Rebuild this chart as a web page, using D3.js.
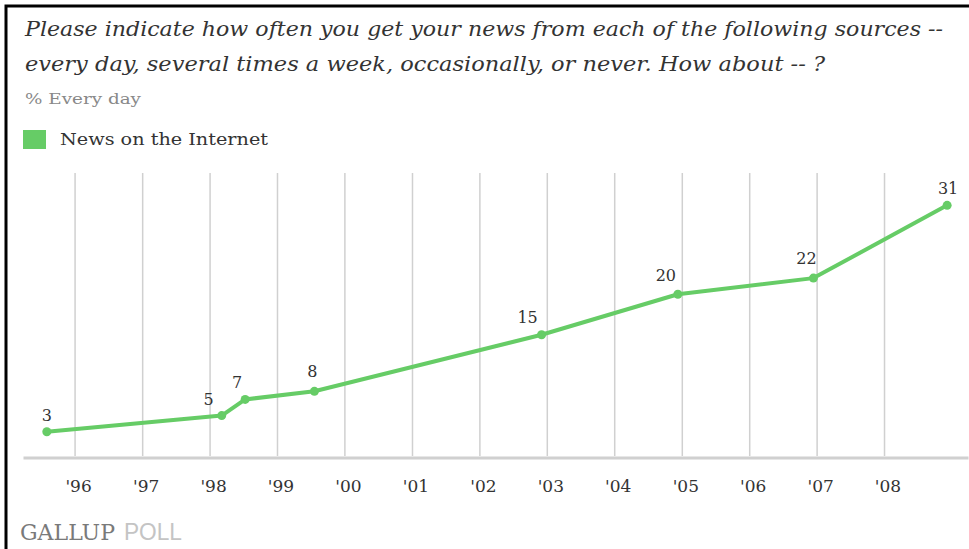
<!DOCTYPE html>
<html>
<head>
<meta charset="utf-8">
<script src="https://cdn.jsdelivr.net/npm/d3@7"></script>
<style>
  html, body { margin: 0; padding: 0; background: #fff; }
  svg { display: block; }
</style>
</head>
<body>
<svg id="chart" width="969" height="549"></svg>
<script>
// ---- data ----
const surveyDates = ["1995-08-01", "1998-03-05", "1998-07-10", "1999-07-20", "2002-12-01", "2004-12-08", "2006-12-12", "2008-12-05"];
const everyDayPct = [3, 5, 7, 8, 15, 20, 22, 31];
const tickYears = [1996, 1997, 1998, 1999, 2000, 2001, 2002, 2003, 2004, 2005, 2006, 2007, 2008];
const tickLabels = ["'96", "'97", "'98", "'99", "'00", "'01", "'02", "'03", "'04", "'05", "'06", "'07", "'08"];
const seriesName = "News on the Internet";
const titleLines = [
  "Please indicate how often you get your news from each of the following sources --",
  "every day, several times a week, occasionally, or never. How about -- ?"
];
const subtitle = "% Every day";

// ---- drawing ----
const svg = d3.select("#chart");
const green = "#66cc66";
const parse = d3.timeParse("%Y-%m-%d");
const points = surveyDates.map((d, i) => ({ date: parse(d), value: everyDayPct[i] }));

svg.append("rect").attr("width", 969).attr("height", 549).attr("fill", "#fff");

// frame (top + left black edges)
svg.append("path").attr("d", "M6,549V6H969").attr("fill", "none")
  .attr("stroke", "#000").attr("stroke-width", 3);

// title
const serif = "'DejaVu Serif', 'Liberation Serif', serif";
svg.selectAll("text.title").data(titleLines).join("text")
  .attr("class", "title")
  .attr("x", 25).attr("y", (d, i) => 36 + i * 35)
  .attr("font-family", serif).attr("font-style", "italic")
  .attr("font-size", 20).attr("fill", "#333")
  .attr("textLength", (d, i) => i === 0 ? 918 : 800)
  .attr("lengthAdjust", "spacingAndGlyphs")
  .text(d => d);

svg.append("text").attr("x", 25).attr("y", 104)
  .attr("font-family", serif).attr("font-size", 15).attr("fill", "#888")
  .attr("textLength", 116).attr("lengthAdjust", "spacingAndGlyphs")
  .text(subtitle);

// legend
svg.append("rect").attr("x", 23).attr("y", 130).attr("width", 23).attr("height", 19).attr("fill", green);
svg.append("text").attr("x", 60).attr("y", 145)
  .attr("font-family", serif).attr("font-size", 17).attr("fill", "#333")
  .attr("textLength", 208).attr("lengthAdjust", "spacingAndGlyphs")
  .text(seriesName);

// scales
const x = d3.scaleTime()
  .domain([new Date(1995, 2, 25), new Date(2009, 2, 28)])
  .range([23, 968]);
const y = d3.scaleLinear().domain([0, 35]).range([456, 173]);

// vertical gridlines
const tickDates = tickYears.map(yr => new Date(yr, 0, 1));
svg.append("g").selectAll("line").data(tickDates).join("line")
  .attr("x1", d => x(d)).attr("x2", d => x(d))
  .attr("y1", y(35)).attr("y2", y(0))
  .attr("stroke", "#d0d0d0").attr("stroke-width", 1.5);

// x axis
const xAxis = d3.axisBottom(x)
  .tickValues(tickDates)
  .tickFormat((d, i) => tickLabels[i])
  .tickSize(0).tickPadding(22);
const gx = svg.append("g").attr("transform", `translate(0,${y(0) + 1.5})`).call(xAxis);
gx.select(".domain").attr("stroke", "#d0d0d0").attr("stroke-width", 3);
gx.selectAll("text")
  .attr("font-family", serif).attr("font-size", 17).attr("fill", "#333")
  .attr("dx", 3);

// line
const line = d3.line().x(d => x(d.date)).y(d => y(d.value));
svg.append("path").datum(points)
  .attr("d", line).attr("fill", "none")
  .attr("stroke", green).attr("stroke-width", 4)
  .attr("stroke-linejoin", "round").attr("stroke-linecap", "round");

svg.append("g").selectAll("circle").data(points).join("circle")
  .attr("cx", d => x(d.date)).attr("cy", d => y(d.value)).attr("r", 4.5)
  .attr("fill", green);

// value labels (small nudges to keep clear of the line)
const nudgeX = [0, -13, -8, -2, -14, -12, -7, 1];
const nudgeY = [0, 0, 0, -3, -1, -2, -3, 0];
svg.append("g").selectAll("text").data(points).join("text")
  .attr("x", (d, i) => x(d.date) + nudgeX[i])
  .attr("y", (d, i) => y(d.value) - 11 + nudgeY[i])
  .attr("text-anchor", "middle")
  .attr("font-family", serif).attr("font-size", 16).attr("fill", "#333")
  .text(d => d.value);

// logo
svg.append("text").attr("x", 20).attr("y", 540)
  .attr("font-family", serif).attr("font-size", 22).attr("fill", "#7a7a7a")
  .attr("textLength", 95).attr("lengthAdjust", "spacingAndGlyphs")
  .text("GALLUP");
svg.append("text").attr("x", 124).attr("y", 540)
  .attr("font-family", "'Liberation Sans', Arial, sans-serif").attr("font-size", 23)
  .attr("fill", "#c4c4c4")
  .attr("textLength", 58).attr("lengthAdjust", "spacingAndGlyphs")
  .text("POLL");
</script>
</body>
</html>
